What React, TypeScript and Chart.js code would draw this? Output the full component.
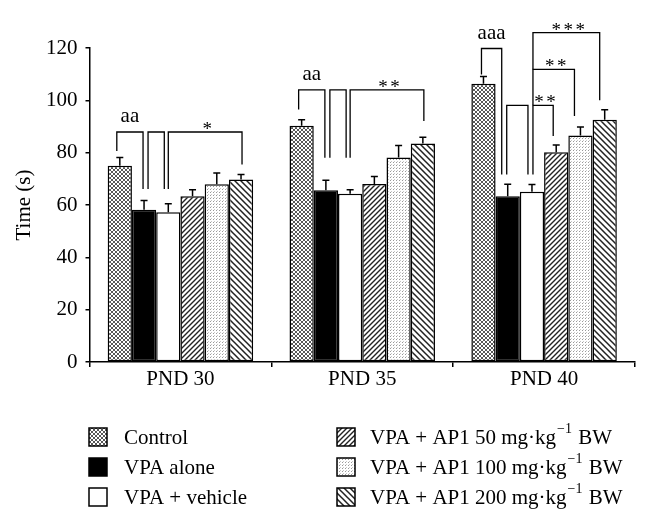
import React, { useEffect, useRef } from "react";
import { Chart, registerables } from "chart.js";

Chart.register(...registerables);

// ---------- data ----------
const categories = ["PND 30", "PND 35", "PND 40"];
const seriesNames = [
  "Control",
  "VPA alone",
  "VPA + vehicle",
  "VPA + AP1 50",
  "VPA + AP1 100",
  "VPA + AP1 200",
];
const control = [75.0, 90.3, 106.3];
const vpaAlone = [58.2, 65.6, 63.3];
const vpaVehicle = [57.2, 64.3, 65.1];
const ap50 = [63.3, 68.0, 80.2];
const ap100 = [67.9, 78.2, 86.6];
const ap200 = [69.7, 83.5, 92.6];

const controlErr = [3.2, 2.3, 2.8];
const vpaAloneErr = [3.5, 3.9, 4.6];
const vpaVehicleErr = [3.3, 1.5, 2.7];
const ap50Err = [2.5, 2.9, 2.7];
const ap100Err = [4.3, 4.5, 3.2];
const ap200Err = [2.0, 2.4, 3.8];

const yMin = 0;
const yMax = 120;
const yStep = 20;

// significance brackets: category, bars joined, bracket level and leg ends (data units)
const brackets = [
  { cat: 0, a: 0, b: 1, level: 87.9, endA: 80.6, endB: 66.1, label: "aa", na: -3, nb: -1 },
  { cat: 0, a: 1, b: 2, level: 87.9, endA: 66.1, endB: 66.1, label: "", na: 4, nb: -4 },
  { cat: 0, a: 2, b: 5, level: 87.9, endA: 66.1, endB: 75.5, label: "*", na: 0, nb: 1 },
  { cat: 1, a: 0, b: 1, level: 104.0, endA: 96.5, endB: 78.1, label: "aa", na: -3, nb: -1 },
  { cat: 1, a: 1, b: 2, level: 104.0, endA: 78.1, endB: 78.1, label: "", na: 4, nb: -4 },
  { cat: 1, a: 2, b: 5, level: 104.0, endA: 78.1, endB: 92.1, label: "**", na: 0, nb: 1 },
  { cat: 2, a: 0, b: 1, level: 119.8, endA: 109.9, endB: 71.7, label: "aaa", na: -2, nb: -6 },
  { cat: 2, a: 1, b: 2, level: 98.1, endA: 71.7, endB: 71.7, label: "", na: -1, nb: -4 },
  { cat: 2, a: 2, b: 3, level: 98.1, endA: 71.7, endB: 86.4, label: "**", na: 1, nb: -3 },
  { cat: 2, a: 2, b: 4, level: 111.8, endA: 98.1, endB: 94.0, label: "**", na: 1, nb: -6 },
  { cat: 2, a: 2, b: 5, level: 125.9, endA: 111.8, endB: 100.0, label: "***", na: 1, nb: -5 },
];

const legendLabels = [
  { text: "Control", sup: "", tail: "" },
  { text: "VPA alone", sup: "", tail: "" },
  { text: "VPA + vehicle", sup: "", tail: "" },
  { text: "VPA + AP1 50 mg·kg", sup: "−1", tail: " BW" },
  { text: "VPA + AP1 100 mg·kg", sup: "−1", tail: " BW" },
  { text: "VPA + AP1 200 mg·kg", sup: "−1", tail: " BW" },
];

const FONT = '"Liberation Serif", "DejaVu Serif", serif';
const FS = 21;

// ---------- patterns ----------
function makeTile(size: number, draw: (c: CanvasRenderingContext2D, s: number) => void) {
  const cv = document.createElement("canvas");
  cv.width = size;
  cv.height = size;
  const c = cv.getContext("2d")!;
  c.fillStyle = "#ffffff";
  c.fillRect(0, 0, size, size);
  draw(c, size);
  return cv;
}

function diag(c: CanvasRenderingContext2D, s: number, forward: boolean) {
  c.beginPath();
  if (forward) {
    c.moveTo(0, s);
    c.lineTo(s, 0);
    c.moveTo(-1, 1);
    c.lineTo(1, -1);
    c.moveTo(s - 1, s + 1);
    c.lineTo(s + 1, s - 1);
  } else {
    c.moveTo(0, 0);
    c.lineTo(s, s);
    c.moveTo(-1, s - 1);
    c.lineTo(1, s + 1);
    c.moveTo(s - 1, -1);
    c.lineTo(s + 1, 1);
  }
  c.stroke();
}

function buildPatterns(ctx: CanvasRenderingContext2D) {
  const cross = makeTile(4, (c, s) => {
    c.strokeStyle = "#444";
    c.lineWidth = 0.9;
    diag(c, s, true);
    diag(c, s, false);
  });
  const fwd = makeTile(5, (c, s) => {
    c.strokeStyle = "#222";
    c.lineWidth = 1.4;
    diag(c, s, true);
  });
  const dots = makeTile(3, (c) => {
    c.fillStyle = "#9a9a9a";
    c.fillRect(0, 0, 1, 1);
    c.fillStyle = "#c8c8c8";
    c.fillRect(1, 2, 1, 1);
  });
  const back = makeTile(6, (c, s) => {
    c.strokeStyle = "#222";
    c.lineWidth = 1.5;
    diag(c, s, false);
  });
  return [
    ctx.createPattern(cross, "repeat")!,
    "#000000",
    "#ffffff",
    ctx.createPattern(fwd, "repeat")!,
    ctx.createPattern(dots, "repeat")!,
    ctx.createPattern(back, "repeat")!,
  ] as (CanvasPattern | string)[];
}

export default function App() {
  const ref = useRef<HTMLCanvasElement | null>(null);

  useEffect(() => {
    const canvas = ref.current!;
    const ctx = canvas.getContext("2d")!;
    const fills = buildPatterns(ctx);
    const values = [control, vpaAlone, vpaVehicle, ap50, ap100, ap200];
    const errs = [controlErr, vpaAloneErr, vpaVehicleErr, ap50Err, ap100Err, ap200Err];

    const overlay = {
      id: "overlay",
      afterDatasetsDraw(chart: any) {
        const c = chart.ctx as CanvasRenderingContext2D;
        const ys = chart.scales.y;
        c.save();
        c.strokeStyle = "#000";
        c.lineWidth = 1.5;
        // error bars (upper only)
        values.forEach((vals, di) => {
          const meta = chart.getDatasetMeta(di);
          vals.forEach((v, i) => {
            const bar = meta.data[i];
            const x = bar.x;
            const yTop = ys.getPixelForValue(v);
            const yErr = ys.getPixelForValue(v + errs[di][i]);
            c.beginPath();
            c.moveTo(x, yTop);
            c.lineTo(x, yErr);
            c.moveTo(x - 3.5, yErr);
            c.lineTo(x + 3.5, yErr);
            c.stroke();
          });
        });
        // brackets
        c.lineWidth = 1.3;
        c.fillStyle = "#000";
        c.textAlign = "center";
        brackets.forEach((b) => {
          const xa = chart.getDatasetMeta(b.a).data[b.cat].x + b.na;
          const xb = chart.getDatasetMeta(b.b).data[b.cat].x + b.nb;
          const yl = ys.getPixelForValue(b.level);
          const ya = ys.getPixelForValue(b.endA);
          const yb = ys.getPixelForValue(b.endB);
          c.beginPath();
          c.moveTo(xa, ya);
          c.lineTo(xa, yl);
          c.lineTo(xb, yl);
          c.lineTo(xb, yb);
          c.stroke();
          if (!b.label) return;
          const mid = (xa + xb) / 2;
          c.textBaseline = "alphabetic";
          if (b.label.indexOf("*") >= 0) {
            c.font = `19px ${FONT}`;
            const n = b.label.length;
            const gap = 12;
            for (let k = 0; k < n; k++) {
              c.fillText("*", mid + 2 + (k - (n - 1) / 2) * gap, yl + 3);
            }
          } else {
            c.font = `${FS}px ${FONT}`;
            c.fillText(b.label, mid, yl - 10);
          }
        });
        c.restore();
      },
      afterDraw(chart: any) {
        const c = chart.ctx as CanvasRenderingContext2D;
        c.save();
        const cols = [
          { sx: 89, tx: 124 },
          { sx: 337, tx: 370 },
        ];
        const rows = [437, 467, 497];
        const sw = 18;
        legendLabels.forEach((it, i) => {
          const col = cols[i < 3 ? 0 : 1];
          const cy = rows[i % 3];
          c.fillStyle = fills[i] as any;
          c.fillRect(col.sx, cy - sw / 2, sw, sw);
          c.strokeStyle = "#000";
          c.lineWidth = 1.5;
          c.strokeRect(col.sx, cy - sw / 2, sw, sw);
          c.fillStyle = "#000";
          c.textAlign = "left";
          c.textBaseline = "middle";
          c.font = `${FS}px ${FONT}`;
          let x = col.tx;
          c.fillText(it.text, x, cy + 1);
          x += c.measureText(it.text).width;
          if (it.sup) {
            c.font = `14px ${FONT}`;
            c.fillText(it.sup, x + 1, cy - 8);
            x += c.measureText(it.sup).width + 2;
            c.font = `${FS}px ${FONT}`;
            c.fillText(it.tail, x, cy + 1);
          }
        });
        c.restore();
      },
    };

    const chart = new Chart(ctx, {
      type: "bar",
      data: {
        labels: categories,
        datasets: seriesNames.map((name, i) => ({
          label: name,
          data: values[i],
          backgroundColor: fills[i] as any,
          borderColor: "#000",
          borderWidth: 1.5,
          borderSkipped: false,
          categoryPercentage: 0.8,
          barPercentage: 1.0,
        })),
      },
      options: {
        responsive: false,
        animation: false,
        events: [],
        layout: { padding: { left: 0, top: 48, right: 15, bottom: 130 } },
        plugins: { legend: { display: false }, tooltip: { enabled: false } },
        scales: {
          x: {
            offset: true,
            grid: {
              display: true,
              drawOnChartArea: false,
              offset: true,
              tickLength: 5,
              color: "#000",
              lineWidth: 1.5,
            },
            border: { display: true, color: "#000", width: 1.5 },
            ticks: { color: "#000", font: { family: FONT, size: FS }, padding: 0 },
            afterFit(scale: any) {
              scale.height = 28;
            },
          },
          y: {
            min: yMin,
            max: yMax,
            ticks: {
              stepSize: yStep,
              color: "#000",
              font: { family: FONT, size: FS },
              padding: 8,
            },
            grid: {
              display: true,
              drawOnChartArea: false,
              tickLength: 4,
              color: "#000",
              lineWidth: 1.5,
            },
            border: { display: true, color: "#000", width: 1.5 },
            title: {
              display: true,
              text: "Time (s)",
              color: "#000",
              font: { family: FONT, size: FS },
              padding: { top: 12, bottom: 0 },
            },
            afterFit(scale: any) {
              scale.width = 89.5;
            },
          },
        },
      },
      plugins: [overlay],
    });
    return () => chart.destroy();
  }, []);

  return (
    <div style={{ position: "absolute", left: 0, top: 0, width: 650, height: 520, background: "#fff" }}>
      <canvas ref={ref} width={650} height={520} style={{ width: 650, height: 520 }} />
    </div>
  );
}
